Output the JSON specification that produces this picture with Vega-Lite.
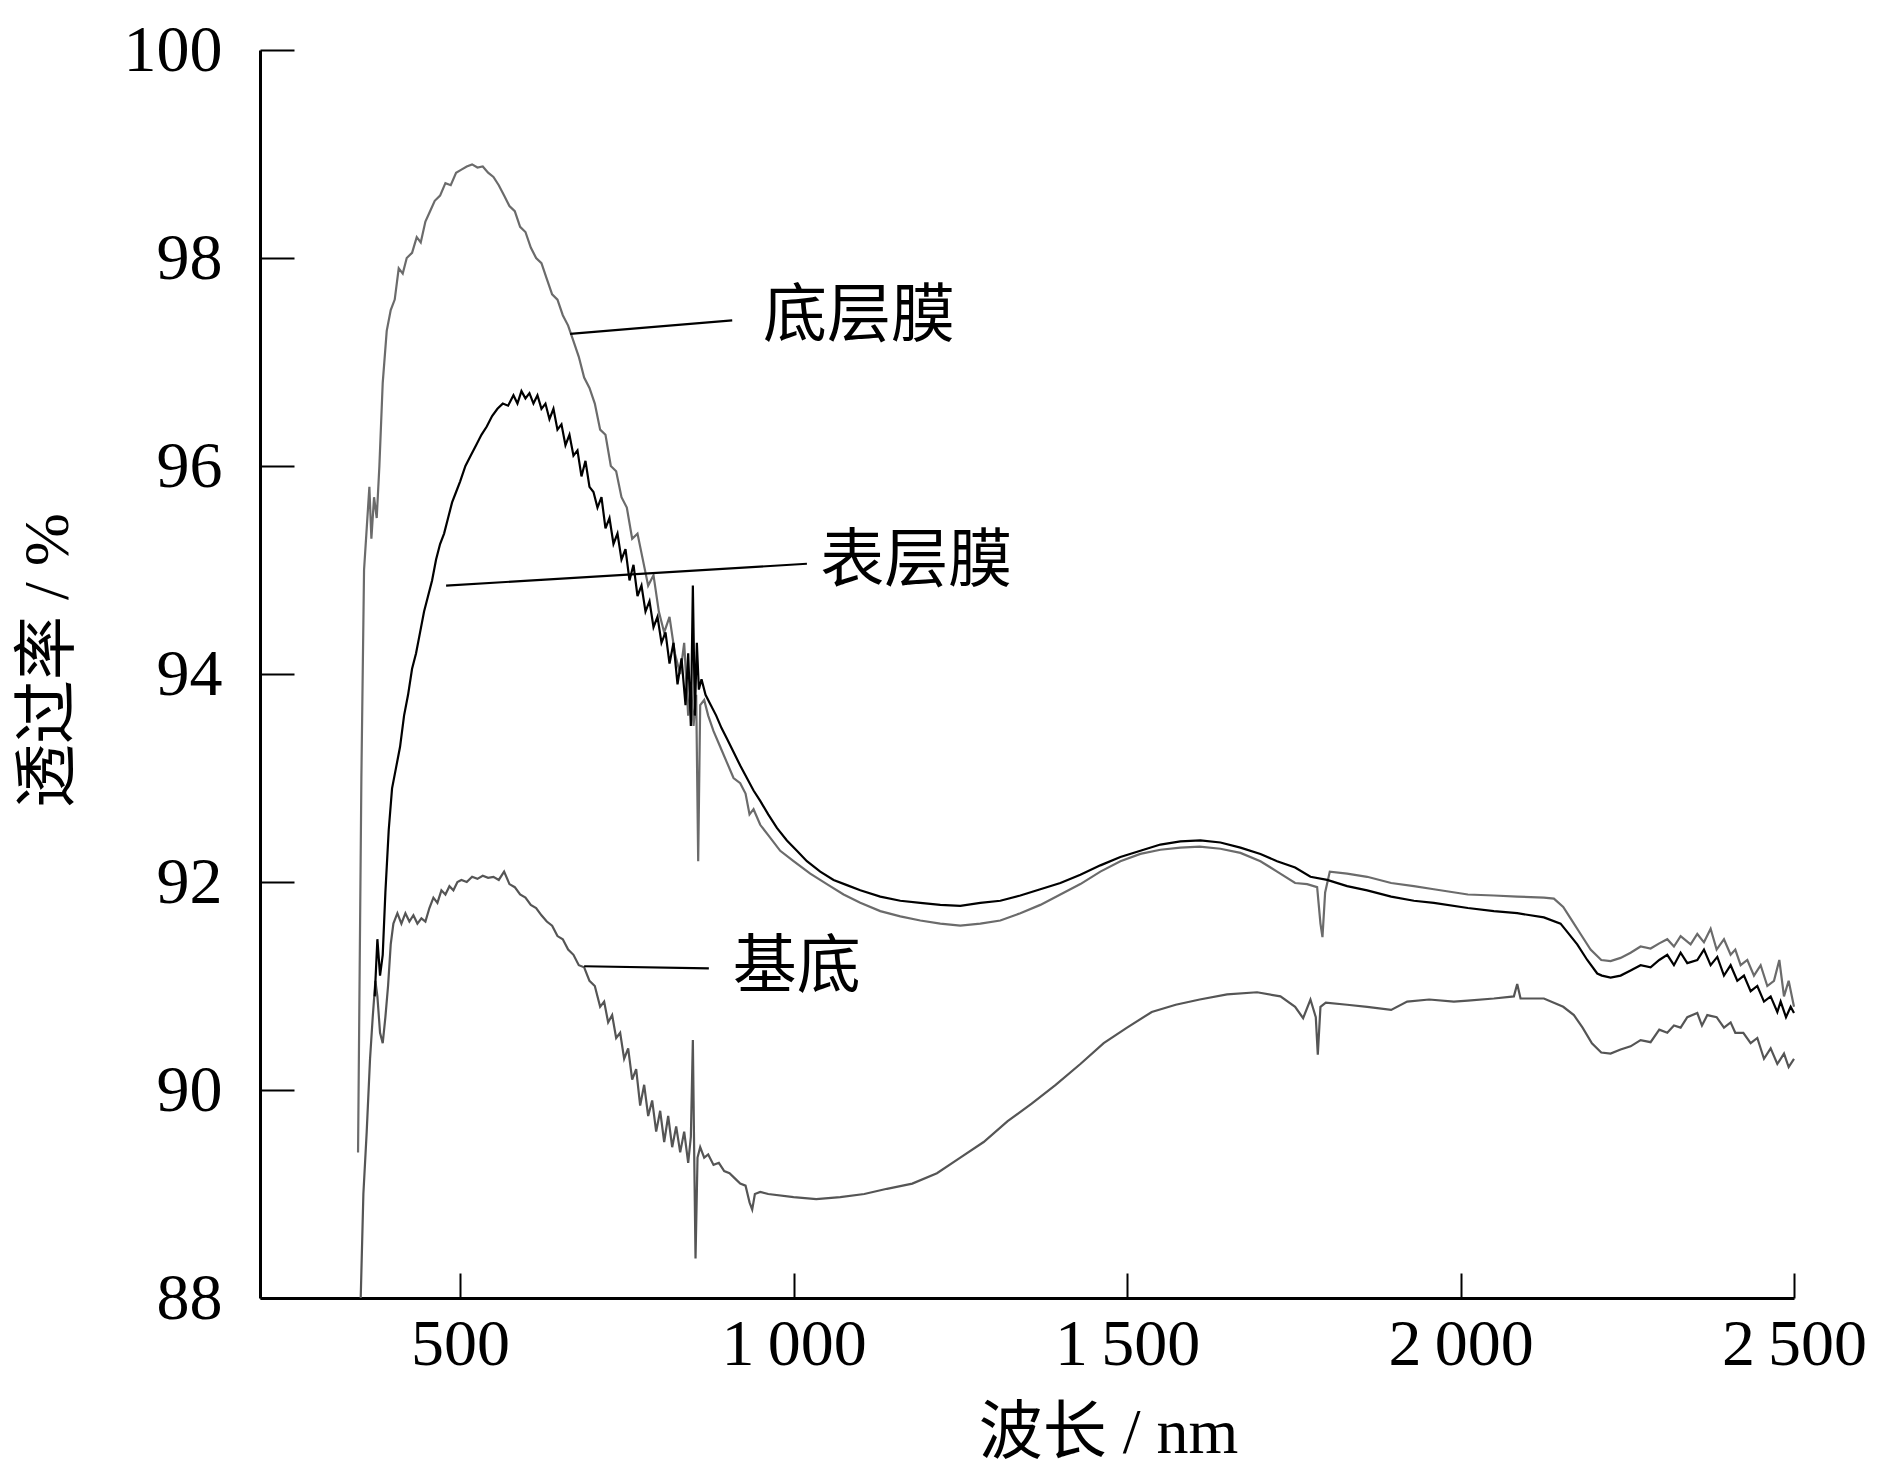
{
  "$schema": "https://vega.github.io/schema/vega-lite/v6.json",
  "width": 1534,
  "height": 1248,
  "autosize": {"type": "none"},
  "padding": {"left": 260, "top": 50, "right": 85, "bottom": 172},
  "background": "white",
  "config": {
    "view": {"stroke": null},
    "font": "Liberation Serif"
  },
  "datasets": {
    "curves": [
      {"s": "基底", "x": 351, "y": 88.0}, {"s": "基底", "x": 355, "y": 89.0}, {"s": "基底", "x": 360, "y": 89.6}, {"s": "基底", "x": 365, "y": 90.3},
      {"s": "基底", "x": 369, "y": 90.7}, {"s": "基底", "x": 373, "y": 91.05}, {"s": "基底", "x": 376, "y": 90.9}, {"s": "基底", "x": 380, "y": 90.55},
      {"s": "基底", "x": 384, "y": 90.45}, {"s": "基底", "x": 388, "y": 90.7}, {"s": "基底", "x": 392, "y": 91.0}, {"s": "基底", "x": 396, "y": 91.4},
      {"s": "基底", "x": 400, "y": 91.6}, {"s": "基底", "x": 406, "y": 91.7}, {"s": "基底", "x": 412, "y": 91.6}, {"s": "基底", "x": 418, "y": 91.7},
      {"s": "基底", "x": 424, "y": 91.62}, {"s": "基底", "x": 430, "y": 91.68}, {"s": "基底", "x": 436, "y": 91.6}, {"s": "基底", "x": 442, "y": 91.65},
      {"s": "基底", "x": 448, "y": 91.62}, {"s": "基底", "x": 454, "y": 91.75}, {"s": "基底", "x": 460, "y": 91.85}, {"s": "基底", "x": 466, "y": 91.8},
      {"s": "基底", "x": 472, "y": 91.92}, {"s": "基底", "x": 478, "y": 91.88}, {"s": "基底", "x": 484, "y": 91.96}, {"s": "基底", "x": 490, "y": 91.92},
      {"s": "基底", "x": 496, "y": 92.0}, {"s": "基底", "x": 502, "y": 92.02}, {"s": "基底", "x": 510, "y": 92.0}, {"s": "基底", "x": 518, "y": 92.05},
      {"s": "基底", "x": 526, "y": 92.03}, {"s": "基底", "x": 534, "y": 92.06}, {"s": "基底", "x": 542, "y": 92.04}, {"s": "基底", "x": 550, "y": 92.05},
      {"s": "基底", "x": 558, "y": 92.02}, {"s": "基底", "x": 566, "y": 92.1}, {"s": "基底", "x": 574, "y": 91.98}, {"s": "基底", "x": 582, "y": 91.95},
      {"s": "基底", "x": 590, "y": 91.88}, {"s": "基底", "x": 598, "y": 91.85}, {"s": "基底", "x": 606, "y": 91.78}, {"s": "基底", "x": 614, "y": 91.75},
      {"s": "基底", "x": 622, "y": 91.68}, {"s": "基底", "x": 630, "y": 91.62}, {"s": "基底", "x": 638, "y": 91.58}, {"s": "基底", "x": 646, "y": 91.48},
      {"s": "基底", "x": 654, "y": 91.45}, {"s": "基底", "x": 662, "y": 91.35}, {"s": "基底", "x": 670, "y": 91.3}, {"s": "基底", "x": 678, "y": 91.2},
      {"s": "基底", "x": 686, "y": 91.18}, {"s": "基底", "x": 694, "y": 91.05}, {"s": "基底", "x": 702, "y": 91.0}, {"s": "基底", "x": 710, "y": 90.8},
      {"s": "基底", "x": 716, "y": 90.85}, {"s": "基底", "x": 722, "y": 90.65}, {"s": "基底", "x": 728, "y": 90.72}, {"s": "基底", "x": 734, "y": 90.5},
      {"s": "基底", "x": 740, "y": 90.55}, {"s": "基底", "x": 746, "y": 90.3}, {"s": "基底", "x": 752, "y": 90.4}, {"s": "基底", "x": 758, "y": 90.1},
      {"s": "基底", "x": 764, "y": 90.2}, {"s": "基底", "x": 770, "y": 89.85}, {"s": "基底", "x": 776, "y": 90.05}, {"s": "基底", "x": 782, "y": 89.75},
      {"s": "基底", "x": 788, "y": 89.9}, {"s": "基底", "x": 794, "y": 89.6}, {"s": "基底", "x": 800, "y": 89.8}, {"s": "基底", "x": 806, "y": 89.5},
      {"s": "基底", "x": 812, "y": 89.75}, {"s": "基底", "x": 818, "y": 89.45}, {"s": "基底", "x": 824, "y": 89.65}, {"s": "基底", "x": 830, "y": 89.4},
      {"s": "基底", "x": 836, "y": 89.6}, {"s": "基底", "x": 842, "y": 89.3}, {"s": "基底", "x": 846, "y": 89.55}, {"s": "基底", "x": 849, "y": 90.48},
      {"s": "基底", "x": 851, "y": 89.4}, {"s": "基底", "x": 853, "y": 88.38}, {"s": "基底", "x": 856, "y": 89.35}, {"s": "基底", "x": 860, "y": 89.45},
      {"s": "基底", "x": 866, "y": 89.35}, {"s": "基底", "x": 872, "y": 89.38}, {"s": "基底", "x": 880, "y": 89.28}, {"s": "基底", "x": 888, "y": 89.3},
      {"s": "基底", "x": 896, "y": 89.22}, {"s": "基底", "x": 904, "y": 89.2}, {"s": "基底", "x": 912, "y": 89.15}, {"s": "基底", "x": 920, "y": 89.1},
      {"s": "基底", "x": 928, "y": 89.08}, {"s": "基底", "x": 934, "y": 88.92}, {"s": "基底", "x": 938, "y": 88.85}, {"s": "基底", "x": 942, "y": 89.0},
      {"s": "基底", "x": 950, "y": 89.02}, {"s": "基底", "x": 962, "y": 89.0}, {"s": "基底", "x": 1000, "y": 88.97}, {"s": "基底", "x": 1034, "y": 88.95},
      {"s": "基底", "x": 1070, "y": 88.97}, {"s": "基底", "x": 1106, "y": 89.0}, {"s": "基底", "x": 1140, "y": 89.05}, {"s": "基底", "x": 1178, "y": 89.1},
      {"s": "基底", "x": 1215, "y": 89.2}, {"s": "基底", "x": 1250, "y": 89.35}, {"s": "基底", "x": 1285, "y": 89.5}, {"s": "基底", "x": 1321, "y": 89.7},
      {"s": "基底", "x": 1357, "y": 89.87}, {"s": "基底", "x": 1393, "y": 90.05}, {"s": "基底", "x": 1430, "y": 90.25}, {"s": "基底", "x": 1465, "y": 90.45},
      {"s": "基底", "x": 1500, "y": 90.6}, {"s": "基底", "x": 1537, "y": 90.75}, {"s": "基底", "x": 1573, "y": 90.82}, {"s": "基底", "x": 1609, "y": 90.87},
      {"s": "基底", "x": 1650, "y": 90.92}, {"s": "基底", "x": 1695, "y": 90.94}, {"s": "基底", "x": 1730, "y": 90.9}, {"s": "基底", "x": 1752, "y": 90.8},
      {"s": "基底", "x": 1764, "y": 90.69}, {"s": "基底", "x": 1775, "y": 90.87}, {"s": "基底", "x": 1783, "y": 90.7}, {"s": "基底", "x": 1786, "y": 90.34},
      {"s": "基底", "x": 1790, "y": 90.8}, {"s": "基底", "x": 1798, "y": 90.84}, {"s": "基底", "x": 1830, "y": 90.82}, {"s": "基底", "x": 1860, "y": 90.8},
      {"s": "基底", "x": 1896, "y": 90.77}, {"s": "基底", "x": 1920, "y": 90.85}, {"s": "基底", "x": 1953, "y": 90.87}, {"s": "基底", "x": 1990, "y": 90.85},
      {"s": "基底", "x": 2011, "y": 90.86}, {"s": "基底", "x": 2050, "y": 90.88}, {"s": "基底", "x": 2080, "y": 90.9}, {"s": "基底", "x": 2085, "y": 91.02},
      {"s": "基底", "x": 2090, "y": 90.88}, {"s": "基底", "x": 2125, "y": 90.88}, {"s": "基底", "x": 2154, "y": 90.8}, {"s": "基底", "x": 2170, "y": 90.72},
      {"s": "基底", "x": 2183, "y": 90.6}, {"s": "基底", "x": 2197, "y": 90.45}, {"s": "基底", "x": 2211, "y": 90.36}, {"s": "基底", "x": 2225, "y": 90.35},
      {"s": "基底", "x": 2240, "y": 90.39}, {"s": "基底", "x": 2255, "y": 90.42}, {"s": "基底", "x": 2270, "y": 90.48}, {"s": "基底", "x": 2285, "y": 90.46},
      {"s": "基底", "x": 2298, "y": 90.58}, {"s": "基底", "x": 2310, "y": 90.55}, {"s": "基底", "x": 2320, "y": 90.62}, {"s": "基底", "x": 2330, "y": 90.6},
      {"s": "基底", "x": 2340, "y": 90.7}, {"s": "基底", "x": 2355, "y": 90.74}, {"s": "基底", "x": 2362, "y": 90.62}, {"s": "基底", "x": 2370, "y": 90.72},
      {"s": "基底", "x": 2384, "y": 90.7}, {"s": "基底", "x": 2395, "y": 90.6}, {"s": "基底", "x": 2405, "y": 90.65}, {"s": "基底", "x": 2412, "y": 90.55},
      {"s": "基底", "x": 2424, "y": 90.55}, {"s": "基底", "x": 2435, "y": 90.45}, {"s": "基底", "x": 2445, "y": 90.5}, {"s": "基底", "x": 2455, "y": 90.3},
      {"s": "基底", "x": 2465, "y": 90.4}, {"s": "基底", "x": 2475, "y": 90.25}, {"s": "基底", "x": 2485, "y": 90.35}, {"s": "基底", "x": 2492, "y": 90.22},
      {"s": "基底", "x": 2500, "y": 90.3},

      {"s": "底层膜", "x": 347, "y": 89.4}, {"s": "底层膜", "x": 352, "y": 93.0}, {"s": "底层膜", "x": 356, "y": 95.0}, {"s": "底层膜", "x": 360, "y": 95.4},
      {"s": "底层膜", "x": 364, "y": 95.8}, {"s": "底层膜", "x": 367, "y": 95.3}, {"s": "底层膜", "x": 371, "y": 95.7}, {"s": "底层膜", "x": 375, "y": 95.5},
      {"s": "底层膜", "x": 379, "y": 96.0}, {"s": "底层膜", "x": 384, "y": 96.8}, {"s": "底层膜", "x": 390, "y": 97.3}, {"s": "底层膜", "x": 396, "y": 97.5},
      {"s": "底层膜", "x": 402, "y": 97.6}, {"s": "底层膜", "x": 408, "y": 97.9}, {"s": "底层膜", "x": 414, "y": 97.85}, {"s": "底层膜", "x": 420, "y": 98.0},
      {"s": "底层膜", "x": 428, "y": 98.05}, {"s": "底层膜", "x": 435, "y": 98.2}, {"s": "底层膜", "x": 441, "y": 98.15}, {"s": "底层膜", "x": 448, "y": 98.35},
      {"s": "底层膜", "x": 455, "y": 98.45}, {"s": "底层膜", "x": 462, "y": 98.55}, {"s": "底层膜", "x": 470, "y": 98.6}, {"s": "底层膜", "x": 478, "y": 98.72},
      {"s": "底层膜", "x": 486, "y": 98.7}, {"s": "底层膜", "x": 494, "y": 98.82}, {"s": "底层膜", "x": 502, "y": 98.85}, {"s": "底层膜", "x": 510, "y": 98.88},
      {"s": "底层膜", "x": 518, "y": 98.9}, {"s": "底层膜", "x": 526, "y": 98.87}, {"s": "底层膜", "x": 534, "y": 98.88}, {"s": "底层膜", "x": 542, "y": 98.82},
      {"s": "底层膜", "x": 550, "y": 98.78}, {"s": "底层膜", "x": 558, "y": 98.7}, {"s": "底层膜", "x": 566, "y": 98.6}, {"s": "底层膜", "x": 574, "y": 98.5},
      {"s": "底层膜", "x": 582, "y": 98.45}, {"s": "底层膜", "x": 590, "y": 98.3}, {"s": "底层膜", "x": 598, "y": 98.25}, {"s": "底层膜", "x": 606, "y": 98.1},
      {"s": "底层膜", "x": 614, "y": 98.0}, {"s": "底层膜", "x": 622, "y": 97.95}, {"s": "底层膜", "x": 630, "y": 97.8}, {"s": "底层膜", "x": 638, "y": 97.65},
      {"s": "底层膜", "x": 646, "y": 97.6}, {"s": "底层膜", "x": 654, "y": 97.45}, {"s": "底层膜", "x": 662, "y": 97.35}, {"s": "底层膜", "x": 670, "y": 97.2},
      {"s": "底层膜", "x": 678, "y": 97.05}, {"s": "底层膜", "x": 686, "y": 96.85}, {"s": "底层膜", "x": 694, "y": 96.75}, {"s": "底层膜", "x": 702, "y": 96.6},
      {"s": "底层膜", "x": 710, "y": 96.35}, {"s": "底层膜", "x": 718, "y": 96.3}, {"s": "底层膜", "x": 726, "y": 96.0}, {"s": "底层膜", "x": 734, "y": 95.95},
      {"s": "底层膜", "x": 742, "y": 95.7}, {"s": "底层膜", "x": 750, "y": 95.6}, {"s": "底层膜", "x": 758, "y": 95.3}, {"s": "底层膜", "x": 766, "y": 95.35},
      {"s": "底层膜", "x": 774, "y": 95.1}, {"s": "底层膜", "x": 782, "y": 94.85}, {"s": "底层膜", "x": 790, "y": 94.95}, {"s": "底层膜", "x": 798, "y": 94.6},
      {"s": "底层膜", "x": 806, "y": 94.4}, {"s": "底层膜", "x": 814, "y": 94.55}, {"s": "底层膜", "x": 822, "y": 94.2}, {"s": "底层膜", "x": 830, "y": 94.0},
      {"s": "底层膜", "x": 836, "y": 94.3}, {"s": "底层膜", "x": 842, "y": 93.6}, {"s": "底层膜", "x": 846, "y": 93.9}, {"s": "底层膜", "x": 850, "y": 93.5},
      {"s": "底层膜", "x": 854, "y": 93.8}, {"s": "底层膜", "x": 857, "y": 92.2}, {"s": "底层膜", "x": 860, "y": 93.7}, {"s": "底层膜", "x": 866, "y": 93.75},
      {"s": "底层膜", "x": 872, "y": 93.6}, {"s": "底层膜", "x": 880, "y": 93.45}, {"s": "底层膜", "x": 890, "y": 93.3}, {"s": "底层膜", "x": 900, "y": 93.15},
      {"s": "底层膜", "x": 910, "y": 93.0}, {"s": "底层膜", "x": 920, "y": 92.95}, {"s": "底层膜", "x": 928, "y": 92.85}, {"s": "底层膜", "x": 934, "y": 92.65},
      {"s": "底层膜", "x": 940, "y": 92.7}, {"s": "底层膜", "x": 950, "y": 92.55}, {"s": "底层膜", "x": 962, "y": 92.45}, {"s": "底层膜", "x": 980, "y": 92.3},
      {"s": "底层膜", "x": 1000, "y": 92.2}, {"s": "底层膜", "x": 1025, "y": 92.08}, {"s": "底层膜", "x": 1050, "y": 91.98}, {"s": "底层膜", "x": 1075, "y": 91.88},
      {"s": "底层膜", "x": 1100, "y": 91.8}, {"s": "底层膜", "x": 1130, "y": 91.72}, {"s": "底层膜", "x": 1160, "y": 91.67}, {"s": "底层膜", "x": 1190, "y": 91.63},
      {"s": "底层膜", "x": 1220, "y": 91.6}, {"s": "底层膜", "x": 1250, "y": 91.58}, {"s": "底层膜", "x": 1280, "y": 91.6}, {"s": "底层膜", "x": 1310, "y": 91.63},
      {"s": "底层膜", "x": 1340, "y": 91.7}, {"s": "底层膜", "x": 1370, "y": 91.78}, {"s": "底层膜", "x": 1400, "y": 91.88}, {"s": "底层膜", "x": 1430, "y": 91.98},
      {"s": "底层膜", "x": 1460, "y": 92.1}, {"s": "底层膜", "x": 1490, "y": 92.2}, {"s": "底层膜", "x": 1520, "y": 92.27}, {"s": "底层膜", "x": 1550, "y": 92.31},
      {"s": "底层膜", "x": 1580, "y": 92.33}, {"s": "底层膜", "x": 1609, "y": 92.34}, {"s": "底层膜", "x": 1640, "y": 92.32}, {"s": "底层膜", "x": 1670, "y": 92.28},
      {"s": "底层膜", "x": 1700, "y": 92.2}, {"s": "底层膜", "x": 1725, "y": 92.1}, {"s": "底层膜", "x": 1752, "y": 91.99}, {"s": "底层膜", "x": 1770, "y": 91.98},
      {"s": "底层膜", "x": 1785, "y": 91.95}, {"s": "底层膜", "x": 1790, "y": 91.6}, {"s": "底层膜", "x": 1793, "y": 91.47}, {"s": "底层膜", "x": 1797, "y": 91.9},
      {"s": "底层膜", "x": 1804, "y": 92.1}, {"s": "底层膜", "x": 1830, "y": 92.08}, {"s": "底层膜", "x": 1860, "y": 92.05}, {"s": "底层膜", "x": 1896, "y": 91.99},
      {"s": "底层膜", "x": 1930, "y": 91.96}, {"s": "底层膜", "x": 1960, "y": 91.93}, {"s": "底层膜", "x": 2011, "y": 91.88}, {"s": "底层膜", "x": 2050, "y": 91.87},
      {"s": "底层膜", "x": 2085, "y": 91.86}, {"s": "底层膜", "x": 2125, "y": 91.85}, {"s": "底层膜", "x": 2140, "y": 91.84}, {"s": "底层膜", "x": 2154, "y": 91.76},
      {"s": "底层膜", "x": 2165, "y": 91.65}, {"s": "底层膜", "x": 2180, "y": 91.5}, {"s": "底层膜", "x": 2195, "y": 91.35}, {"s": "底层膜", "x": 2211, "y": 91.25},
      {"s": "底层膜", "x": 2225, "y": 91.24}, {"s": "底层膜", "x": 2240, "y": 91.27}, {"s": "底层膜", "x": 2255, "y": 91.32}, {"s": "底层膜", "x": 2270, "y": 91.38},
      {"s": "底层膜", "x": 2285, "y": 91.36}, {"s": "底层膜", "x": 2298, "y": 91.41}, {"s": "底层膜", "x": 2310, "y": 91.45}, {"s": "底层膜", "x": 2320, "y": 91.38},
      {"s": "底层膜", "x": 2330, "y": 91.48}, {"s": "底层膜", "x": 2345, "y": 91.4}, {"s": "底层膜", "x": 2355, "y": 91.5}, {"s": "底层膜", "x": 2365, "y": 91.42},
      {"s": "底层膜", "x": 2375, "y": 91.55}, {"s": "底层膜", "x": 2384, "y": 91.35}, {"s": "底层膜", "x": 2395, "y": 91.45}, {"s": "底层膜", "x": 2405, "y": 91.3},
      {"s": "底层膜", "x": 2412, "y": 91.35}, {"s": "底层膜", "x": 2420, "y": 91.2}, {"s": "底层膜", "x": 2430, "y": 91.25}, {"s": "底层膜", "x": 2440, "y": 91.1},
      {"s": "底层膜", "x": 2450, "y": 91.2}, {"s": "底层膜", "x": 2460, "y": 91.0}, {"s": "底层膜", "x": 2470, "y": 91.05}, {"s": "底层膜", "x": 2478, "y": 91.25},
      {"s": "底层膜", "x": 2485, "y": 90.9}, {"s": "底层膜", "x": 2492, "y": 91.05}, {"s": "底层膜", "x": 2500, "y": 90.8},

      {"s": "表层膜", "x": 372, "y": 90.9}, {"s": "表层膜", "x": 376, "y": 91.45}, {"s": "表层膜", "x": 380, "y": 91.1}, {"s": "表层膜", "x": 384, "y": 91.3},
      {"s": "表层膜", "x": 388, "y": 91.9}, {"s": "表层膜", "x": 393, "y": 92.5}, {"s": "表层膜", "x": 398, "y": 92.9}, {"s": "表层膜", "x": 404, "y": 93.1},
      {"s": "表层膜", "x": 410, "y": 93.3}, {"s": "表层膜", "x": 416, "y": 93.6}, {"s": "表层膜", "x": 422, "y": 93.8}, {"s": "表层膜", "x": 428, "y": 94.05},
      {"s": "表层膜", "x": 434, "y": 94.2}, {"s": "表层膜", "x": 440, "y": 94.4}, {"s": "表层膜", "x": 446, "y": 94.6}, {"s": "表层膜", "x": 452, "y": 94.75},
      {"s": "表层膜", "x": 458, "y": 94.9}, {"s": "表层膜", "x": 464, "y": 95.1}, {"s": "表层膜", "x": 470, "y": 95.25}, {"s": "表层膜", "x": 476, "y": 95.35},
      {"s": "表层膜", "x": 482, "y": 95.5}, {"s": "表层膜", "x": 488, "y": 95.65}, {"s": "表层膜", "x": 494, "y": 95.75}, {"s": "表层膜", "x": 500, "y": 95.85},
      {"s": "表层膜", "x": 508, "y": 96.0}, {"s": "表层膜", "x": 516, "y": 96.1}, {"s": "表层膜", "x": 524, "y": 96.2}, {"s": "表层膜", "x": 532, "y": 96.3},
      {"s": "表层膜", "x": 540, "y": 96.38}, {"s": "表层膜", "x": 548, "y": 96.48}, {"s": "表层膜", "x": 556, "y": 96.55}, {"s": "表层膜", "x": 564, "y": 96.6},
      {"s": "表层膜", "x": 572, "y": 96.58}, {"s": "表层膜", "x": 580, "y": 96.68}, {"s": "表层膜", "x": 586, "y": 96.6}, {"s": "表层膜", "x": 592, "y": 96.72},
      {"s": "表层膜", "x": 598, "y": 96.65}, {"s": "表层膜", "x": 604, "y": 96.7}, {"s": "表层膜", "x": 610, "y": 96.6}, {"s": "表层膜", "x": 616, "y": 96.68},
      {"s": "表层膜", "x": 622, "y": 96.55}, {"s": "表层膜", "x": 628, "y": 96.6}, {"s": "表层膜", "x": 634, "y": 96.45}, {"s": "表层膜", "x": 640, "y": 96.55},
      {"s": "表层膜", "x": 646, "y": 96.35}, {"s": "表层膜", "x": 652, "y": 96.4}, {"s": "表层膜", "x": 658, "y": 96.2}, {"s": "表层膜", "x": 664, "y": 96.3},
      {"s": "表层膜", "x": 670, "y": 96.1}, {"s": "表层膜", "x": 676, "y": 96.15}, {"s": "表层膜", "x": 682, "y": 95.9}, {"s": "表层膜", "x": 688, "y": 96.05},
      {"s": "表层膜", "x": 694, "y": 95.8}, {"s": "表层膜", "x": 700, "y": 95.75}, {"s": "表层膜", "x": 706, "y": 95.6}, {"s": "表层膜", "x": 712, "y": 95.7},
      {"s": "表层膜", "x": 718, "y": 95.4}, {"s": "表层膜", "x": 724, "y": 95.5}, {"s": "表层膜", "x": 730, "y": 95.25}, {"s": "表层膜", "x": 736, "y": 95.35},
      {"s": "表层膜", "x": 742, "y": 95.1}, {"s": "表层膜", "x": 748, "y": 95.2}, {"s": "表层膜", "x": 754, "y": 94.9}, {"s": "表层膜", "x": 760, "y": 95.05},
      {"s": "表层膜", "x": 766, "y": 94.75}, {"s": "表层膜", "x": 772, "y": 94.85}, {"s": "表层膜", "x": 778, "y": 94.6}, {"s": "表层膜", "x": 784, "y": 94.7},
      {"s": "表层膜", "x": 790, "y": 94.45}, {"s": "表层膜", "x": 796, "y": 94.55}, {"s": "表层膜", "x": 802, "y": 94.3}, {"s": "表层膜", "x": 808, "y": 94.4},
      {"s": "表层膜", "x": 814, "y": 94.1}, {"s": "表层膜", "x": 820, "y": 94.3}, {"s": "表层膜", "x": 826, "y": 93.9}, {"s": "表层膜", "x": 832, "y": 94.15},
      {"s": "表层膜", "x": 838, "y": 93.7}, {"s": "表层膜", "x": 842, "y": 94.2}, {"s": "表层膜", "x": 846, "y": 93.5}, {"s": "表层膜", "x": 849, "y": 94.85},
      {"s": "表层膜", "x": 852, "y": 93.6}, {"s": "表层膜", "x": 855, "y": 94.3}, {"s": "表层膜", "x": 858, "y": 93.85}, {"s": "表层膜", "x": 862, "y": 93.95},
      {"s": "表层膜", "x": 868, "y": 93.8}, {"s": "表层膜", "x": 876, "y": 93.7}, {"s": "表层膜", "x": 884, "y": 93.6}, {"s": "表层膜", "x": 892, "y": 93.48},
      {"s": "表层膜", "x": 900, "y": 93.38}, {"s": "表层膜", "x": 910, "y": 93.25}, {"s": "表层膜", "x": 920, "y": 93.12}, {"s": "表层膜", "x": 930, "y": 93.0},
      {"s": "表层膜", "x": 940, "y": 92.88}, {"s": "表层膜", "x": 950, "y": 92.78}, {"s": "表层膜", "x": 962, "y": 92.65}, {"s": "表层膜", "x": 975, "y": 92.52},
      {"s": "表层膜", "x": 990, "y": 92.4}, {"s": "表层膜", "x": 1005, "y": 92.3}, {"s": "表层膜", "x": 1020, "y": 92.2}, {"s": "表层膜", "x": 1040, "y": 92.1},
      {"s": "表层膜", "x": 1060, "y": 92.02}, {"s": "表层膜", "x": 1080, "y": 91.97}, {"s": "表层膜", "x": 1100, "y": 91.92}, {"s": "表层膜", "x": 1130, "y": 91.86},
      {"s": "表层膜", "x": 1160, "y": 91.82}, {"s": "表层膜", "x": 1190, "y": 91.8}, {"s": "表层膜", "x": 1220, "y": 91.78}, {"s": "表层膜", "x": 1250, "y": 91.77},
      {"s": "表层膜", "x": 1280, "y": 91.8}, {"s": "表层膜", "x": 1310, "y": 91.82}, {"s": "表层膜", "x": 1340, "y": 91.87}, {"s": "表层膜", "x": 1370, "y": 91.93},
      {"s": "表层膜", "x": 1400, "y": 91.99}, {"s": "表层膜", "x": 1430, "y": 92.07}, {"s": "表层膜", "x": 1460, "y": 92.16}, {"s": "表层膜", "x": 1490, "y": 92.24},
      {"s": "表层膜", "x": 1520, "y": 92.3}, {"s": "表层膜", "x": 1550, "y": 92.36}, {"s": "表层膜", "x": 1580, "y": 92.39}, {"s": "表层膜", "x": 1610, "y": 92.4},
      {"s": "表层膜", "x": 1640, "y": 92.38}, {"s": "表层膜", "x": 1670, "y": 92.33}, {"s": "表层膜", "x": 1700, "y": 92.27}, {"s": "表层膜", "x": 1725, "y": 92.2},
      {"s": "表层膜", "x": 1752, "y": 92.14}, {"s": "表层膜", "x": 1775, "y": 92.05}, {"s": "表层膜", "x": 1800, "y": 92.02}, {"s": "表层膜", "x": 1830, "y": 91.96},
      {"s": "表层膜", "x": 1860, "y": 91.92}, {"s": "表层膜", "x": 1896, "y": 91.86}, {"s": "表层膜", "x": 1930, "y": 91.82}, {"s": "表层膜", "x": 1960, "y": 91.8},
      {"s": "表层膜", "x": 2011, "y": 91.75}, {"s": "表层膜", "x": 2050, "y": 91.72}, {"s": "表层膜", "x": 2085, "y": 91.7}, {"s": "表层膜", "x": 2125, "y": 91.66},
      {"s": "表层膜", "x": 2150, "y": 91.6}, {"s": "表层膜", "x": 2160, "y": 91.52}, {"s": "表层膜", "x": 2175, "y": 91.4}, {"s": "表层膜", "x": 2190, "y": 91.25},
      {"s": "表层膜", "x": 2205, "y": 91.12}, {"s": "表层膜", "x": 2212, "y": 91.1}, {"s": "表层膜", "x": 2225, "y": 91.08}, {"s": "表层膜", "x": 2240, "y": 91.1},
      {"s": "表层膜", "x": 2255, "y": 91.15}, {"s": "表层膜", "x": 2270, "y": 91.2}, {"s": "表层膜", "x": 2285, "y": 91.18}, {"s": "表层膜", "x": 2298, "y": 91.25},
      {"s": "表层膜", "x": 2310, "y": 91.3}, {"s": "表层膜", "x": 2320, "y": 91.2}, {"s": "表层膜", "x": 2330, "y": 91.32}, {"s": "表层膜", "x": 2340, "y": 91.22},
      {"s": "表层膜", "x": 2355, "y": 91.25}, {"s": "表层膜", "x": 2365, "y": 91.35}, {"s": "表层膜", "x": 2375, "y": 91.2}, {"s": "表层膜", "x": 2385, "y": 91.28},
      {"s": "表层膜", "x": 2395, "y": 91.1}, {"s": "表层膜", "x": 2405, "y": 91.2}, {"s": "表层膜", "x": 2415, "y": 91.05}, {"s": "表层膜", "x": 2425, "y": 91.1},
      {"s": "表层膜", "x": 2435, "y": 90.95}, {"s": "表层膜", "x": 2445, "y": 91.0}, {"s": "表层膜", "x": 2455, "y": 90.85}, {"s": "表层膜", "x": 2465, "y": 90.9},
      {"s": "表层膜", "x": 2475, "y": 90.75}, {"s": "表层膜", "x": 2480, "y": 90.85}, {"s": "表层膜", "x": 2488, "y": 90.7}, {"s": "表层膜", "x": 2495, "y": 90.8},
      {"s": "表层膜", "x": 2500, "y": 90.74}
    ],
    "labels": [
      {"name": "底层膜", "x": 665, "y": 97.27, "x2": 908, "y2": 97.4, "tx": 954, "ty": 97.43},
      {"name": "表层膜", "x": 479, "y": 94.85, "x2": 1020, "y2": 95.06, "tx": 1040, "ty": 95.08},
      {"name": "基底", "x": 686, "y": 91.19, "x2": 873, "y2": 91.17, "tx": 909, "ty": 91.17}
    ]
  },
  "encoding": {
    "x": {
      "field": "x",
      "type": "quantitative",
      "scale": {"domain": [200, 2500], "nice": false, "zero": false},
      "axis": {
        "title": "波长 / nm",
        "values": [500, 1000, 1500, 2000, 2500],
        "labelExpr": "datum.value >= 1000 ? floor(datum.value / 1000) + '\u2009' + format(datum.value % 1000, '03d') : format(datum.value, 'd')",
        "grid": false,
        "domainColor": "black",
        "domainWidth": 3,
        "tickColor": "black",
        "tickWidth": 2,
        "tickSize": -25,
        "labelFont": "Liberation Serif",
        "labelFontSize": 66,
        "labelColor": "black",
        "labelPadding": 39,
        "labelFlush": false,
        "labelOverlap": false,
        "titleFont": "Liberation Serif, Noto Sans CJK SC",
        "titleFontSize": 64,
        "titleFontWeight": "normal",
        "titleColor": "black",
        "titleX": 848,
        "titleY": 154,
        "titleAlign": "center",
        "titleBaseline": "alphabetic"
      }
    },
    "y": {
      "field": "y",
      "type": "quantitative",
      "scale": {"domain": [88, 100], "nice": false, "zero": false},
      "axis": {
        "title": "透过率 / %",
        "values": [88, 90, 92, 94, 96, 98, 100],
        "grid": false,
        "domainColor": "black",
        "domainWidth": 3,
        "tickColor": "black",
        "tickWidth": 2,
        "tickSize": -34,
        "labelFont": "Liberation Serif",
        "labelFontSize": 66,
        "labelColor": "black",
        "labelPadding": 72,
        "labelFlush": false,
        "labelOverlap": false,
        "titleFont": "Liberation Serif, Noto Sans CJK SC",
        "titleFontSize": 64,
        "titleFontWeight": "normal",
        "titleColor": "black",
        "titleAngle": -90,
        "titleX": -212,
        "titleY": 610,
        "titleAlign": "center",
        "titleBaseline": "middle"
      }
    }
  },
  "layer": [
    {
      "data": {"name": "curves"},
      "mark": {"type": "line", "strokeWidth": 2.2, "interpolate": "linear"},
      "encoding": {
        "color": {
          "field": "s",
          "type": "nominal",
          "scale": {"domain": ["基底", "底层膜", "表层膜"], "range": ["#555555", "#6b6b6b", "#000000"]},
          "legend": null
        }
      }
    },
    {
      "data": {"name": "labels"},
      "mark": {"type": "rule", "color": "black", "strokeWidth": 2.2},
      "encoding": {
        "x2": {"field": "x2"},
        "y2": {"field": "y2"}
      }
    },
    {
      "data": {"name": "labels"},
      "mark": {"type": "text", "align": "left", "baseline": "middle", "font": "Noto Sans CJK SC", "fontSize": 64, "color": "black"},
      "encoding": {
        "x": {"field": "tx", "type": "quantitative"},
        "y": {"field": "ty", "type": "quantitative"},
        "text": {"field": "name"}
      }
    }
  ]
}
